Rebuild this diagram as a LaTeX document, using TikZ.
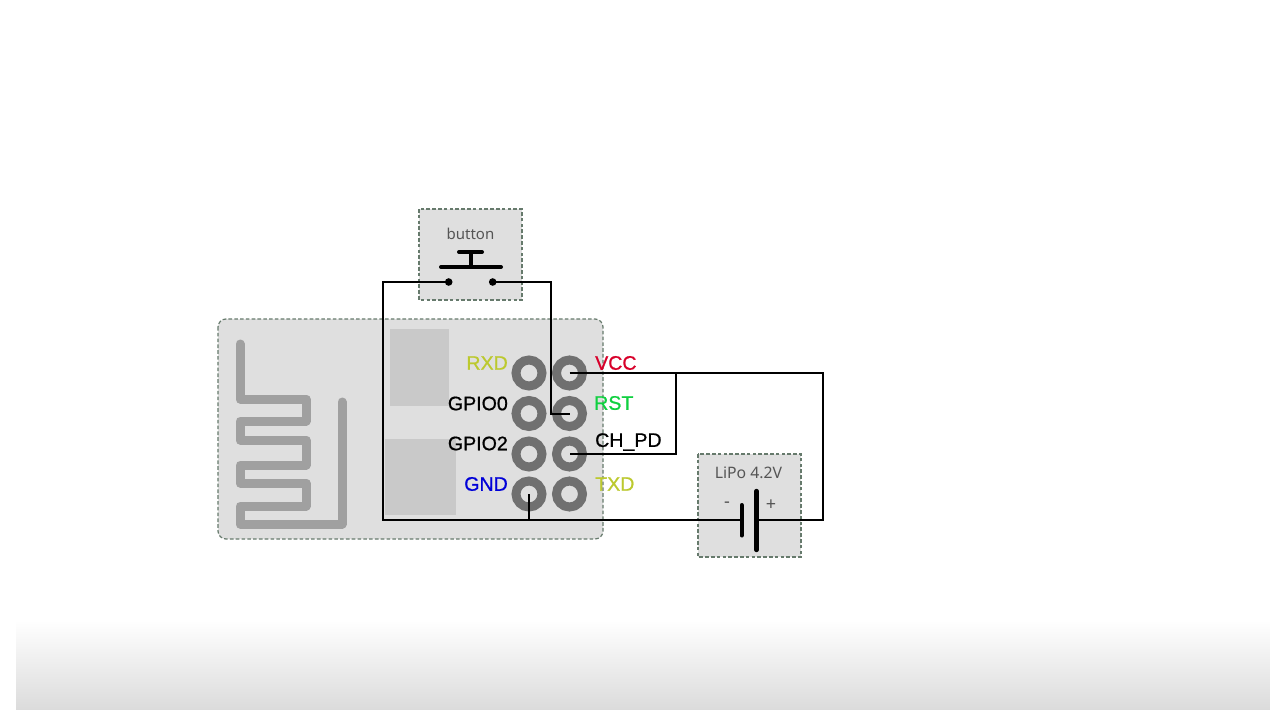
\documentclass[tikz,border=0pt]{standalone}
\usepackage{fontspec}
\setmainfont{Noto Sans}
\newfontfamily\pinfont{Liberation Sans}
\definecolor{boxfill}{HTML}{DFDFDF}
\definecolor{boxedge}{HTML}{667A6C}
\definecolor{shadearea}{HTML}{C9C9C9}
\definecolor{trace}{HTML}{A0A0A0}
\definecolor{padring}{HTML}{707070}
\definecolor{inktext}{HTML}{555555}
\definecolor{yellowtext}{HTML}{BCC92E}
\definecolor{redtext}{HTML}{D8002A}
\definecolor{greentext}{HTML}{10D040}
\definecolor{bluetext}{HTML}{0000D8}
\definecolor{bottomgrey}{HTML}{DBDBDB}
\tikzset{
  x=1pt,y=-1pt,
  dashedbox/.style={draw=boxedge,fill=boxfill,line width=1.2pt,dash pattern=on 3.6pt off 2.2pt},
  wire/.style={draw=black,line width=2pt,line join=miter},
  sym/.style={draw=black,line width=4pt,line cap=round},
  padnode/.style={circle,draw=padring,fill=boxfill,line width=9pt,minimum size=26pt,inner sep=0pt,outer sep=0pt},
  dot/.style={circle,fill=black,minimum size=7.6pt,inner sep=0pt},
  pinlabelL/.style={anchor=east,font=\pinfont\fontsize{19.6}{22}\selectfont\addfontfeature{FakeBold=0.8},inner sep=0pt},
  pinlabelR/.style={anchor=west,font=\pinfont\fontsize{19.6}{22}\selectfont\addfontfeature{FakeBold=0.8},inner sep=0pt},
  smalltext/.style={text=inktext,font=\fontsize{15}{17}\selectfont,inner sep=0pt},
}
\begin{document}
\begin{tikzpicture}
\useasboundingbox (0,0) rectangle (1270,710);
\fill[white] (0,0) rectangle (1270,710);
\shade[top color=white,bottom color=bottomgrey,shading angle=0] (16,620) rectangle (1270,710);
% board
\draw[dashedbox,rounded corners=8pt] (218,319) rectangle (603,539);
\fill[shadearea] (390,329) rectangle (449,406);
\fill[shadearea] (385,439) rectangle (456,515);
% antenna
\draw[trace,line width=9pt,line cap=round,line join=round]
 (240,344) -- (240,399) -- (306,399) -- (306,421) -- (240,421) -- (240,440) -- (306,440)
 -- (306,465) -- (240,465) -- (240,483) -- (306,483) -- (306,506) -- (240,506) -- (240,524)
 -- (342,524) -- (342,402);
% button box
\draw[dashedbox] (419,209) rectangle (522,300);
\node[smalltext] (buttonlabel) at (470.5,233.5) {button};
\draw[sym] (441,267) -- (501,267);
\draw[sym,line cap=butt] (471,252) -- (471,267);
\draw[sym] (459,252) -- (482,252);
\node[dot] (swa) at (448.7,282) {};
\node[dot] (swb) at (492.7,282) {};
% battery box
\draw[dashedbox] (698,454) rectangle (801,557);
\node[smalltext,font=\fontsize{15.8}{17}\selectfont] (lipolabel) at (748.5,473) {LiPo 4.2V};
\node[smalltext,font=\fontsize{18}{18}\selectfont] (minuslabel) at (727,505) {-};
\node[smalltext,font=\fontsize{18}{18}\selectfont] (pluslabel) at (771,505.5) {+};
% pads
\node[padnode] (rxd) at (529,373) {};
\node[padnode] (vcc) at (569.5,373) {};
\node[padnode] (gpioz) at (529,413.5) {};
\node[padnode] (rst) at (569.5,413.5) {};
\node[padnode] (gpiot) at (529,454) {};
\node[padnode] (chpd) at (569.5,454) {};
\node[padnode] (gnd) at (529,494) {};
\node[padnode] (txd) at (569.5,494) {};
% connector way-points
\coordinate (batneg) at (741.7,519.5);
\coordinate (batpos) at (756.5,519.5);
\coordinate (cornerSW) at (383,519.5);
\coordinate (cornerSE) at (551,282);
\coordinate (cornerVR) at (823,373);
\coordinate (branch) at (676,373);
% wires
\draw[wire] (swa.center) -| (cornerSW) -- (batneg);
\draw[wire] (gnd.center) -- (gnd.center |- batneg);
\draw[wire] (swb.center) -- (cornerSE) |- (rst.center);
\draw[wire] (vcc.center) -- (cornerVR) |- (batpos);
\draw[wire] (branch) |- (chpd.center);
\draw[sym] (741.7,505) -- (741.7,535.5);
\draw[sym,line width=4.4pt] (756.5,491) -- (756.5,550);
% labels
\node[pinlabelL,text=yellowtext] (lrxd) at (508,363) {RXD};
\node[pinlabelL,text=black] (lgz) at (508,403.5) {GPIO0};
\node[pinlabelL,text=black] (lgt) at (508,443.5) {GPIO2};
\node[pinlabelL,text=bluetext] (lgnd) at (508,484) {GND};
\node[pinlabelR,text=redtext] (lvcc) at (595,363) {VCC};
\node[pinlabelR,text=greentext] (lrst) at (594,403) {RST};
\node[pinlabelR,text=black] (lch) at (595,442) {CH\_PD};
\node[pinlabelR,text=yellowtext] (ltxd) at (595,484) {TXD};
\end{tikzpicture}
\end{document}
